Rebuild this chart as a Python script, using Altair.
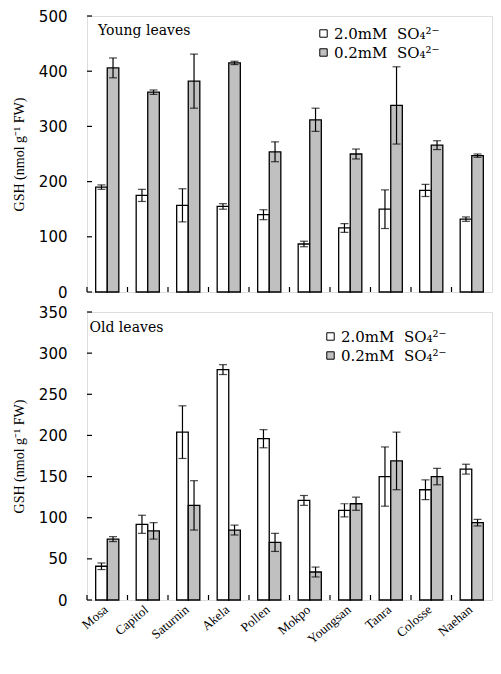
import altair as alt
import pandas as pd

cultivars = ["Mosa", "Capitol", "Saturnin", "Akela", "Pollen",
             "Mokpo", "Youngsan", "Tanra", "Colosse", "Naehan"]
series = ["2.0mM\u00a0\u00a0SO\u2084\u00b2\u207b", "0.2mM\u00a0\u00a0SO\u2084\u00b2\u207b"]

# Young leaves
young_high = [190, 175, 157, 155, 140, 87, 116, 150, 184, 132]
young_high_err = [4, 11, 30, 5, 9, 5, 8, 35, 11, 4]
young_low = [406, 362, 382, 415, 254, 312, 250, 338, 266, 247]
young_low_err = [18, 4, 49, 3, 18, 21, 9, 70, 8, 3]
young_ticks = [0, 100, 200, 300, 400, 500]

# Old leaves
old_high = [41, 92, 204, 280, 196, 121, 109, 150, 134, 159]
old_high_err = [4, 11, 32, 6, 11, 6, 8, 36, 12, 6]
old_low = [74, 84, 115, 85, 70, 34, 117, 169, 150, 94]
old_low_err = [3, 10, 30, 6, 11, 6, 8, 35, 10, 4]
old_ticks = [0, 50, 100, 150, 200, 250, 300, 350]

WIDTH = 405
Y_TITLE = "GSH (nmol g\u207b\u00b9 FW)"


def make_df(hi, hi_err, lo, lo_err):
    rows = []
    for i, c in enumerate(cultivars):
        for s, v, e in ((series[0], hi[i], hi_err[i]), (series[1], lo[i], lo_err[i])):
            rows.append({"cultivar": c, "series": s, "value": v, "err": e,
                         "lo": v - e, "hi": v + e})
    return pd.DataFrame(rows)


def panel(df, ticks, height, label, tx, ty, lx, ly, show_labels):
    ymax = ticks[-1]
    xscale = alt.Scale(domain=cultivars, paddingInner=0, paddingOuter=0)
    if show_labels:
        xaxis = alt.Axis(title=None, labelAngle=-40, domain=False, ticks=False,
                         labelFont="Liberation Serif", labelFontSize=13,
                         labelPadding=3, labelOffset=-5, labelColor="black")
    else:
        xaxis = None
    yscale = alt.Scale(domain=[0, ymax], nice=False, zero=True)
    yaxis = alt.Axis(values=ticks, title=Y_TITLE, domain=False, ticks=False,
                     grid=False, labelFont="DejaVu Sans", labelFontSize=15,
                     labelPadding=20, labelColor="black",
                     titleFont="Liberation Serif", titleFontSize=14,
                     titleFontWeight="normal", titlePadding=12, titleColor="black")
    x = alt.X("cultivar:N", sort=cultivars, scale=xscale, axis=xaxis)
    xo = alt.XOffset("series:N", sort=series,
                     scale=alt.Scale(domain=series, paddingInner=0, paddingOuter=0.75))
    base = alt.Chart(df)
    bars = base.mark_bar(stroke="black", strokeWidth=1.3).encode(
        x=x, xOffset=xo,
        y=alt.Y("value:Q", scale=yscale, axis=yaxis),
        color=alt.Color("series:N", sort=series,
                        scale=alt.Scale(domain=series, range=["white", "#c0c0c0"]),
                        legend=alt.Legend(title=None, orient="none", legendX=lx, legendY=ly,
                                          symbolType="square", symbolSize=55,
                                          symbolStrokeColor="black", symbolStrokeWidth=1,
                                          labelFont="DejaVu Serif", labelFontSize=15,
                                          labelColor="black", rowPadding=3,
                                          labelOffset=3, padding=0)),
    )
    stems = base.mark_rule(color="black", strokeWidth=1.2).encode(
        x=x, xOffset=xo,
        y=alt.Y("lo:Q", scale=yscale, axis=yaxis), y2="hi:Q")
    cap_lo = base.mark_tick(orient="horizontal", color="black", thickness=1.2, size=8).encode(
        x=x, xOffset=xo, y=alt.Y("lo:Q", scale=yscale, axis=yaxis))
    cap_hi = base.mark_tick(orient="horizontal", color="black", thickness=1.2, size=8).encode(
        x=x, xOffset=xo, y=alt.Y("hi:Q", scale=yscale, axis=yaxis))
    yt = alt.Chart(pd.DataFrame({"v": ticks})).mark_rule(color="black", strokeWidth=1.2).encode(
        y=alt.Y("v:Q", scale=yscale, axis=yaxis), x=alt.value(0), x2=alt.value(5))
    xt = alt.Chart(pd.DataFrame({"cultivar": cultivars})).mark_rule(
        color="black", strokeWidth=1.2).encode(
        x=alt.X("cultivar:N", sort=cultivars, scale=xscale, axis=xaxis, bandPosition=0),
        y=alt.value(height - 5), y2=alt.value(height))
    txt = alt.Chart(pd.DataFrame({"t": [label]})).mark_text(
        align="left", baseline="alphabetic", font="DejaVu Serif", fontSize=14,
        color="black").encode(text="t:N", x=alt.value(tx), y=alt.value(ty))
    return alt.layer(bars, stems, cap_lo, cap_hi, yt, xt, txt).properties(
        width=WIDTH, height=height)


top = panel(make_df(young_high, young_high_err, young_low, young_low_err),
            young_ticks, 276, "Young leaves", 11, 19, 229, 10, False)
bottom = panel(make_df(old_high, old_high_err, old_low, old_low_err),
               old_ticks, 288, "Old leaves", 2.5, 20, 236, 17, True)

chart = alt.vconcat(top, bottom, spacing=3).resolve_scale(
    color="independent", x="independent", y="independent"
).resolve_legend(color="independent").properties(
    padding={"left": 3, "top": 0, "right": 0, "bottom": 0}
).configure_view(stroke="black", strokeWidth=1.2).configure(background="white")

chart.save("out.html", embed_options={"renderer": "svg", "actions": False})
